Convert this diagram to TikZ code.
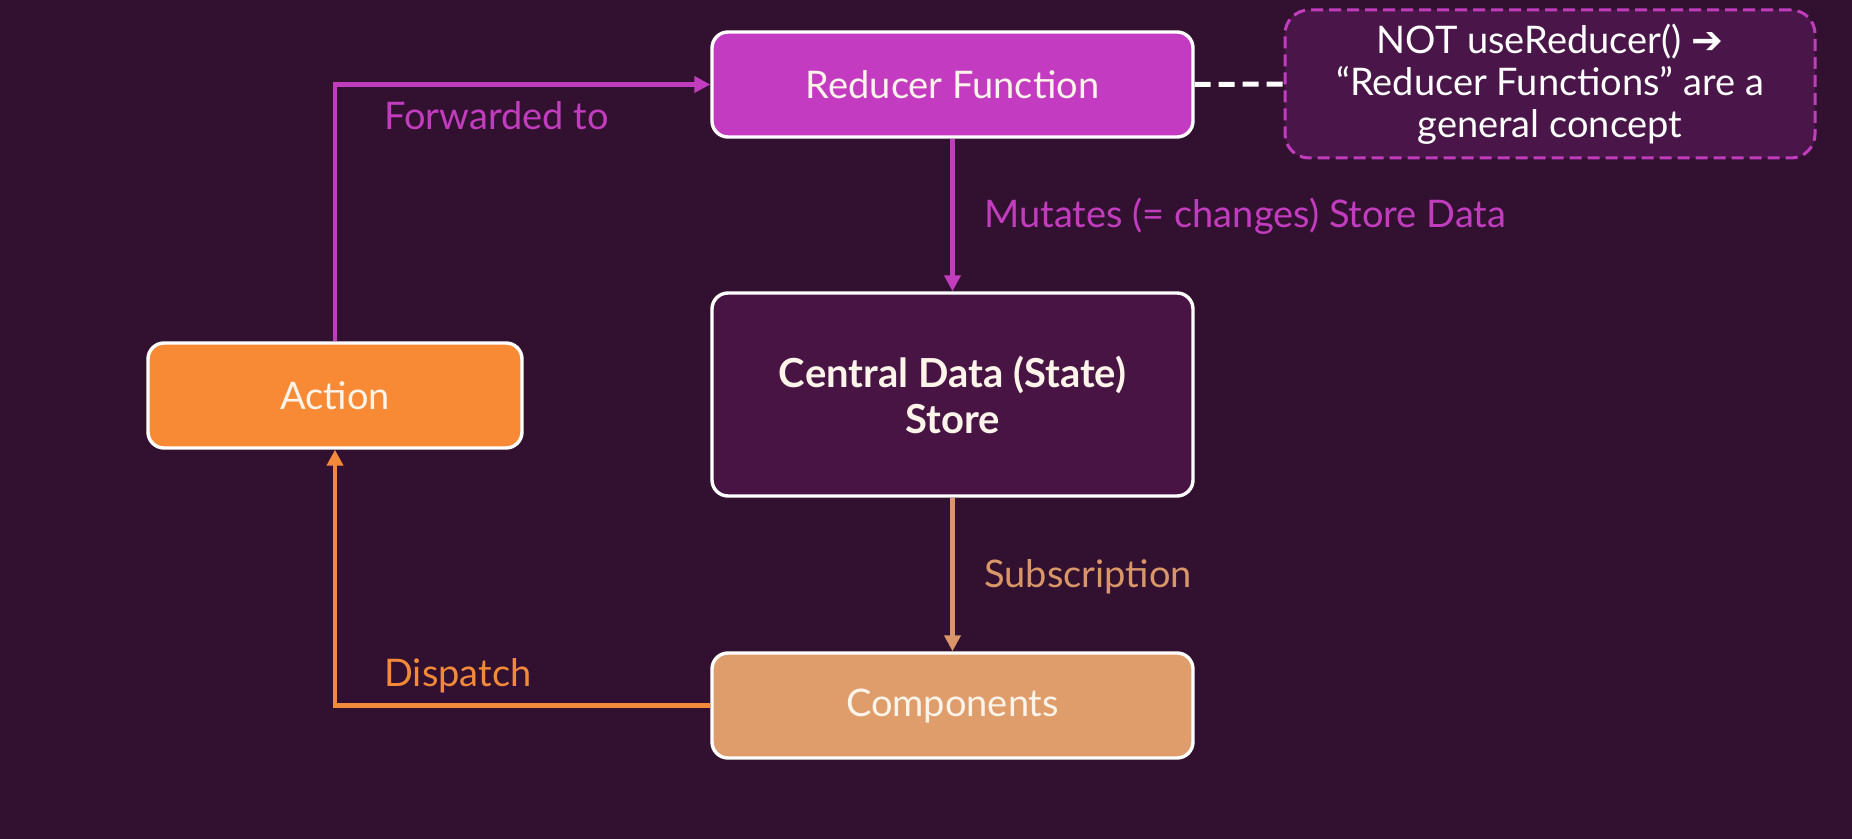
\documentclass[tikz,border=0pt]{standalone}
\usepackage{fontspec}
\setmainfont{Lato}
\newfontfamily\dejavu{DejaVu Sans}
\usetikzlibrary{arrows.meta}
\definecolor{bg}{HTML}{311030}
\definecolor{reducer}{HTML}{C23BC0}
\definecolor{magline}{HTML}{C13DBE}
\definecolor{notefill}{HTML}{4A1548}
\definecolor{storefill}{HTML}{471443}
\definecolor{actionfill}{HTML}{F98A35}
\definecolor{compfill}{HTML}{DE9D6B}
\definecolor{orangeline}{HTML}{F28A3A}
\definecolor{tanline}{HTML}{D99668}
\definecolor{cream}{HTML}{FFF4EA}
\begin{document}
\begin{tikzpicture}[x=0.5pt,y=-0.5pt,
  box/.style={draw=white, line width=1.7pt, rounded corners=8pt,
    minimum width=240.5pt, minimum height=52.5pt, inner sep=0pt,
    align=center, text=cream, font=\fontsize{19}{22}\selectfont},
  notebox/.style={draw=magline, line width=1.5pt, dash pattern=on 6pt off 3pt,
    rounded corners=12pt, fill=notefill, minimum width=265pt, minimum height=74pt,
    inner sep=0pt, align=center, text=white, font=\fontsize{19}{21}\selectfont},
  conn/.style={line width=2.2pt},
  tip/.style={-{Triangle[length=8pt,width=8pt]}},
  lbl/.style={anchor=west, inner sep=0pt, font=\fontsize{19}{22}\selectfont}]
\fill[bg] (0,0) rectangle (1852,839);
\useasboundingbox (0,0) rectangle (1852,839);

\node[box, fill=reducer] (red) at (952.5,84.5) {Reducer Function};
\node[box, fill=storefill, minimum height=101.5pt,
  font=\fontsize{20}{23}\selectfont\bfseries] (store) at (952.5,394.5) {Central Data (State)\\Store};
\node[box, fill=actionfill, minimum width=187pt] (act) at (335,395.5) {Action};
\node[box, fill=compfill] (comp) at (952.5,705.5) {Components};
\node[notebox] (note) at (1550,84) {NOT useReducer() {\dejavu\bfseries ➔}\\“Reducer Functions” are a\\general concept};

\draw[conn, magline, tip] (act.north) |- (red.west);
\draw[conn, magline, tip] (red.south) -- (store.north);
\draw[conn, tanline, tip] (store.south) -- (comp.north);
\draw[conn, orangeline, tip] (comp.west) -| (act.south);
\draw[white, line width=2.5pt, dash pattern=on 8pt off 4pt] (red.east) -- (note.west);

\node[lbl, text=magline] (lfwd) at (384,116) {Forwarded to};
\node[lbl, text=magline] (lmut) at (984,216) {Mutates (= changes) Store Data};
\node[lbl, text=tanline] (lsub) at (984,577) {Subscription};
\node[lbl, text=orangeline] (ldis) at (384,676) {Dispatch};
\end{tikzpicture}
\end{document}
